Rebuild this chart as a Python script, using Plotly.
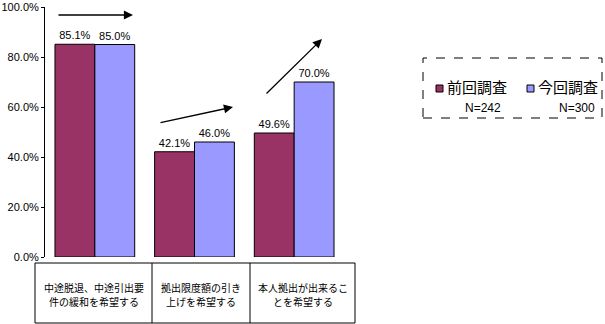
import plotly.graph_objects as go

categories = ["中途脱退、中途引出要件の緩和を希望する",
              "拠出限度額の引き上げを希望する",
              "本人拠出が出来ることを希望する"]
category_lines = [["中途脱退、中途引出要", "件の緩和を希望する"],
                  ["拠出限度額の引き", "上げを希望する"],
                  ["本人拠出が出来るこ", "とを希望する"]]
series_names = ["前回調査", "今回調査"]
series_n = ["N=242", "N=300"]
prev_values = [85.1, 42.1, 49.6]
curr_values = [85.0, 46.0, 70.0]
colors = ["#993366", "#9999FF"]
tick_vals = [0, 20, 40, 60, 80, 100]
tick_labels = ["0.0%", "20.0%", "40.0%", "60.0%", "80.0%", "100.0%"]

W, H = 605, 324
L, R, T, B = 45, 344, 7, 257  # plot area in pixels

def px(x):
    return (x - L) / (R - L)

def py(y):
    return (B - y) / (B - T)

JP = "Noto Sans CJK JP"
NUM = "Liberation Sans"

fig = go.Figure()
for name, vals, col in zip(series_names, [prev_values, curr_values], colors):
    fig.add_trace(go.Bar(
        x=categories, y=vals, name=name,
        marker=dict(color=col, line=dict(color="black", width=1)),
        text=[f"{v:.1f}%" for v in vals], textposition="outside",
        textfont=dict(family=NUM, size=11, color="black"),
        cliponaxis=False, showlegend=False,
    ))

shapes = []
annotations = []

# category table below the plot
tx = [35, 152, 250, 355]
ty0, ty1 = 263, 323
shapes.append(dict(type="rect", xref="paper", yref="paper",
                   x0=px(tx[0]), x1=px(tx[-1]), y0=py(ty1), y1=py(ty0),
                   line=dict(color="black", width=1)))
for xv in tx[1:-1]:
    shapes.append(dict(type="line", xref="paper", yref="paper",
                       x0=px(xv), x1=px(xv), y0=py(ty1), y1=py(ty0),
                       line=dict(color="black", width=1)))
line_y = [287.5, 301]
for i, lines in enumerate(category_lines):
    for j, txt in enumerate(lines):
        annotations.append(dict(xref="paper", yref="paper",
                                x=px((tx[i] + tx[i + 1]) / 2), y=py(line_y[j]),
                                text=txt, showarrow=False,
                                font=dict(family=JP, size=10, color="black"),
                                xanchor="center", yanchor="middle"))

# trend arrows
arrows = [((133, 15), (57, 15)), ((233, 107), (159, 123)), ((322, 39), (265, 95))]
for (hx, hy), (sx, sy) in arrows:
    annotations.append(dict(xref="paper", yref="paper", x=px(hx), y=py(hy),
                            ax=sx - hx, ay=sy - hy, text="", showarrow=True,
                            arrowhead=2, arrowsize=1.4, arrowwidth=1.3,
                            arrowcolor="black"))

# custom legend box
shapes.append(dict(type="rect", xref="paper", yref="paper",
                   x0=px(423), x1=px(602), y0=py(118), y1=py(58),
                   line=dict(color="black", width=1, dash="dash")))
leg_x = [436, 527]
leg_nx = [503, 597]
for i in range(2):
    shapes.append(dict(type="rect", xref="paper", yref="paper",
                       x0=px(leg_x[i]), x1=px(leg_x[i] + 7), y0=py(92), y1=py(85),
                       fillcolor=colors[i], line=dict(color="black", width=1)))
    annotations.append(dict(xref="paper", yref="paper", x=px(leg_x[i] + 9), y=py(86.5),
                            text=series_names[i], showarrow=False,
                            font=dict(family=JP, size=15, color="black"),
                            xanchor="left", yanchor="middle"))
    annotations.append(dict(xref="paper", yref="paper", x=px(leg_nx[i]), y=py(107.5),
                            text=series_n[i], showarrow=False,
                            font=dict(family=NUM, size=12, color="black"),
                            xanchor="right", yanchor="middle"))

fig.update_layout(
    width=W, height=H,
    margin=dict(l=L, r=W - R, t=T, b=H - B, pad=0, autoexpand=False),
    paper_bgcolor="white", plot_bgcolor="white",
    barmode="group", bargap=0.2, bargroupgap=0,
    shapes=shapes, annotations=annotations, showlegend=False,
    xaxis=dict(type="category", range=[-0.5, 2.5], showticklabels=False,
               showline=False, showgrid=False, zeroline=False, ticks="",
               automargin=False),
    yaxis=dict(range=[0, 100], tickvals=tick_vals, ticktext=tick_labels,
               ticks="outside", ticklen=3, tickcolor="black",
               showline=True, linecolor="black", linewidth=1,
               showgrid=False, zeroline=False, automargin=False,
               tickfont=dict(family=NUM, size=11, color="black")),
)

fig.write_html("out.html")
